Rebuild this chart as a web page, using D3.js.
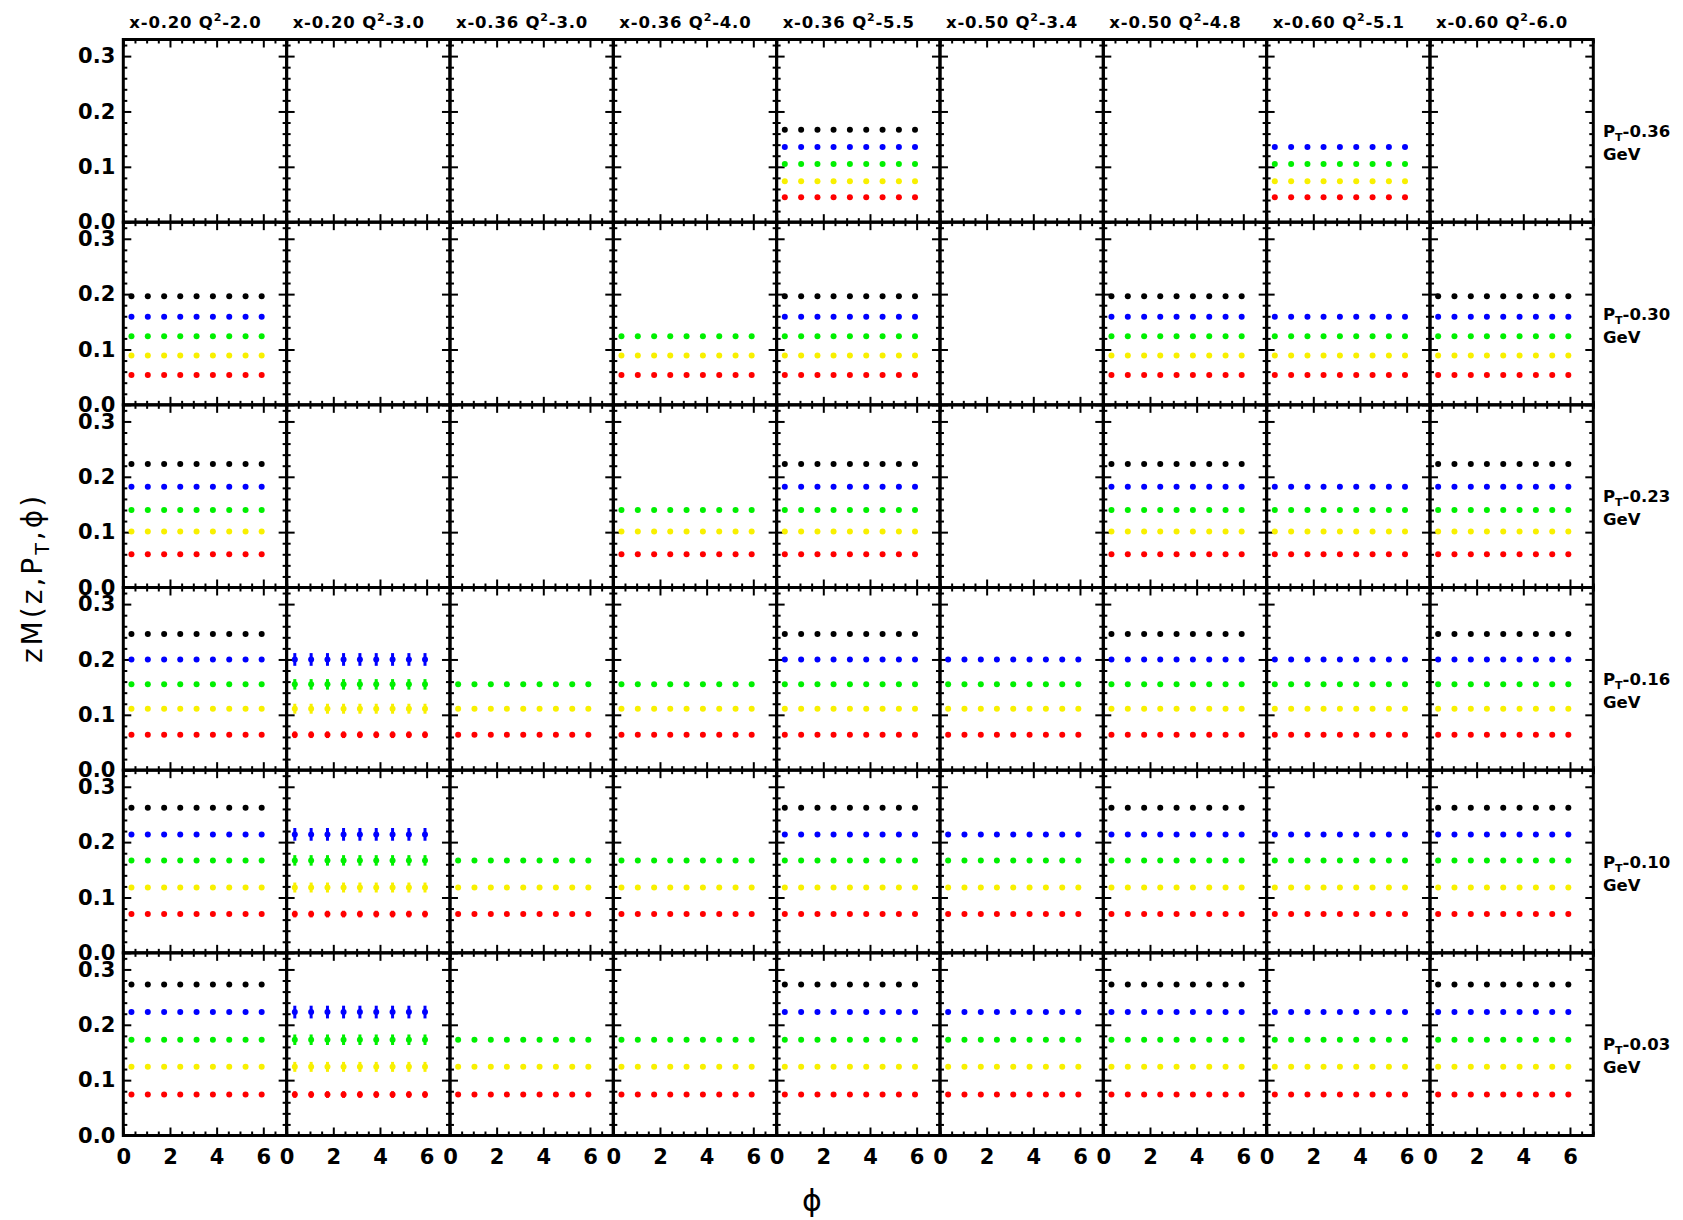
<!DOCTYPE html>
<html>
<head>
<meta charset="utf-8">
<script src="https://cdn.jsdelivr.net/npm/d3@7"></script>
<style>
  html, body { margin: 0; padding: 0; background: #fff; }
  svg { display: block; }
  text { font-family: "DejaVu Sans", sans-serif; fill: #000; }
</style>
</head>
<body>
<svg id="chart" width="1683" height="1220"></svg>
<script>
// Kinematic bins: one column per (x, Q^2) pair, one row per P_T bin
const xBins = ["0.20", "0.20", "0.36", "0.36", "0.36", "0.50", "0.50", "0.60", "0.60"];
const q2Bins = ["2.0", "3.0", "3.0", "4.0", "5.5", "3.4", "4.8", "5.1", "6.0"];
const ptBins = ["0.36", "0.30", "0.23", "0.16", "0.10", "0.03"];

// Azimuthal angle points (rad)
const phiPoints = [0.35, 1.05, 1.75, 2.44, 3.14, 3.84, 4.54, 5.24, 5.93];

// zM values for each P_T row (top to bottom), one array per z bin
const blackVals  = [0.167, 0.196, 0.223, 0.246, 0.262, 0.273];
const blueVals   = [0.136, 0.159, 0.182, 0.200, 0.214, 0.223];
const greenVals  = [0.105, 0.124, 0.140, 0.155, 0.167, 0.173];
const yellowVals = [0.074, 0.089, 0.101, 0.111, 0.118, 0.124];
const redVals    = [0.045, 0.054, 0.060, 0.064, 0.070, 0.074];

// Which z bins are filled in each (row, column) cell
const coverage = [
  ["", "", "", "", "KBGYR", "", "", "BGYR", ""],
  ["KBGYR", "", "", "GYR", "KBGYR", "", "KBGYR", "BGYR", "KBGYR"],
  ["KBGYR", "", "", "GYR", "KBGYR", "", "KBGYR", "BGYR", "KBGYR"],
  ["KBGYR", "BGYR", "GYR", "GYR", "KBGYR", "BGYR", "KBGYR", "BGYR", "KBGYR"],
  ["KBGYR", "BGYR", "GYR", "GYR", "KBGYR", "BGYR", "KBGYR", "BGYR", "KBGYR"],
  ["KBGYR", "BGYR", "GYR", "GYR", "KBGYR", "BGYR", "KBGYR", "BGYR", "KBGYR"]
];

// Statistical uncertainty per z bin for the x=0.20, Q^2=3.0 column
const errColumn = 1;
const errBlue = 0.0115, errGreen = 0.0095, errYellow = 0.009, errRed = 0.006;

const yTickVals = [0.0, 0.1, 0.2, 0.3];
const xTickVals = [0, 2, 4, 6];

const seriesTable = {
  K: { vals: blackVals,  color: "#000000", err: 0 },
  B: { vals: blueVals,   color: "#0000ff", err: errBlue },
  G: { vals: greenVals,  color: "#00f000", err: errGreen },
  Y: { vals: yellowVals, color: "#f8f000", err: errYellow },
  R: { vals: redVals,    color: "#ff0000", err: errRed }
};

const svg = d3.select("#chart");
const gridLeft = 123.3, gridRight = 1593.3, gridTop = 39.5, gridBottom = 1135.5;
const nCols = xBins.length, nRows = ptBins.length;
const pw = (gridRight - gridLeft) / nCols, ph = (gridBottom - gridTop) / nRows;

const x = d3.scaleLinear().domain([0, 7]).range([0, pw]);
const y = d3.scaleLinear().domain([0, 0.33]).range([ph, 0]);

const majorX = d3.range(0, 7.01, 2);
const minorX = d3.range(0, 7.01, 0.5).filter(v => v % 2 !== 0);
const majorY = d3.range(0, 0.331, 0.1);
const minorY = d3.range(0, 0.331, 0.02).filter(v => Math.abs(v * 10 - Math.round(v * 10)) > 1e-6);

function styleAxis(g) {
  g.select(".domain").remove();
  g.selectAll(".tick line").attr("stroke", "#000").attr("stroke-width", 2);
}

for (let r = 0; r < nRows; r++) {
  for (let c = 0; c < nCols; c++) {
    const g = svg.append("g")
      .attr("transform", `translate(${gridLeft + c * pw},${gridTop + r * ph})`);

    // inward ticks on all four sides
    const sides = [
      [d3.axisBottom, x, 0, ph, majorX, minorX],
      [d3.axisTop, x, 0, 0, majorX, minorX],
      [d3.axisLeft, y, 0, 0, majorY, minorY],
      [d3.axisRight, y, pw, 0, majorY, minorY]
    ];
    sides.forEach(([axisFn, scale, tx, ty, maj, min]) => {
      g.append("g").attr("transform", `translate(${tx},${ty})`)
        .call(axisFn(scale).tickValues(maj).tickSize(-8).tickFormat(""))
        .call(styleAxis);
      g.append("g").attr("transform", `translate(${tx},${ty})`)
        .call(axisFn(scale).tickValues(min).tickSize(-4).tickFormat(""))
        .call(styleAxis);
    });

    // data points
    const keys = coverage[r][c].split("");
    keys.forEach(k => {
      const s = seriesTable[k];
      const v = s.vals[r];
      const pg = g.append("g");
      if (c === errColumn && s.err > 0) {
        pg.selectAll("line").data(phiPoints).join("line")
          .attr("x1", d => x(d)).attr("x2", d => x(d))
          .attr("y1", y(v - s.err)).attr("y2", y(v + s.err))
          .attr("stroke", s.color).attr("stroke-width", 3);
      }
      pg.selectAll("circle").data(phiPoints).join("circle")
        .attr("cx", d => x(d)).attr("cy", y(v)).attr("r", 3)
        .attr("fill", s.color);
    });

    // frame
    g.append("rect").attr("width", pw).attr("height", ph)
      .attr("fill", "none").attr("stroke", "#000").attr("stroke-width", 3);

    // y tick labels on the first column
    if (c === 0) {
      const ya = g.append("g")
        .call(d3.axisLeft(y).tickValues(yTickVals).tickSize(0).tickPadding(8)
          .tickFormat(d3.format(".1f")));
      ya.select(".domain").remove();
      ya.selectAll("text").attr("font-size", 21).attr("font-weight", "bold")
        .attr("font-family", "DejaVu Sans, sans-serif");
    }
    // x tick labels on the bottom row
    if (r === nRows - 1) {
      const xa = g.append("g").attr("transform", `translate(0,${ph})`)
        .call(d3.axisBottom(x).tickValues(xTickVals).tickSize(0).tickPadding(14)
          .tickFormat(d3.format("d")));
      xa.select(".domain").remove();
      xa.selectAll("text").attr("font-size", 21).attr("font-weight", "bold")
        .attr("font-family", "DejaVu Sans, sans-serif");
    }
  }
}

// column titles
xBins.forEach((xb, c) => {
  const t = svg.append("text")
    .attr("x", gridLeft + c * pw + 6).attr("y", 28)
    .attr("font-size", 16.5).attr("font-weight", "bold")
    .attr("letter-spacing", 0.8);
  t.append("tspan").text(`x-${xb} Q`);
  t.append("tspan").attr("font-size", 11).attr("dy", -7).text("2");
  t.append("tspan").attr("dy", 7).text(`-${q2Bins[c]}`);
});

// P_T row labels
ptBins.forEach((pt, r) => {
  const cy = gridTop + r * ph + ph / 2;
  const t = svg.append("text")
    .attr("x", 1603).attr("y", cy + 6)
    .attr("font-size", 16.5).attr("font-weight", "bold");
  t.append("tspan").text("P");
  t.append("tspan").attr("font-size", 11).attr("dy", 4).text("T");
  t.append("tspan").attr("dy", -4).text(`-${pt}`);
  svg.append("text")
    .attr("x", 1603).attr("y", cy + 29)
    .attr("font-size", 16.5).attr("font-weight", "bold")
    .text("GeV");
});

// axis titles
svg.append("text")
  .attr("x", 812).attr("y", 1211)
  .attr("text-anchor", "middle")
  .attr("font-size", 30)
  .text("\u03d5");

const yt = svg.append("text")
  .attr("transform", "translate(42,578) rotate(-90)")
  .attr("text-anchor", "middle")
  .attr("font-size", 28)
  .attr("letter-spacing", 3);
yt.append("tspan").text("zM(z,P");
yt.append("tspan").attr("font-size", 19).attr("dy", 7).text("T");
yt.append("tspan").attr("dy", -7).text(",\u03d5)");
</script>
</body>
</html>
